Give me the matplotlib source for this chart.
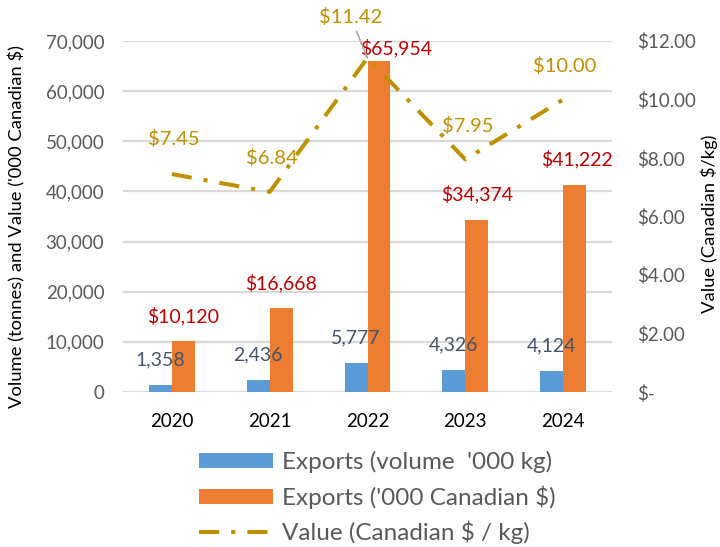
import matplotlib
matplotlib.use("Agg")
import matplotlib.pyplot as plt
import numpy as np

years = ["2020", "2021", "2022", "2023", "2024"]
volume = [1358, 2436, 5777, 4326, 4124]
value_k = [10120, 16668, 65954, 34374, 41222]
price = [7.45, 6.84, 11.42, 7.95, 10.00]

vol_labels = ["1,358", "2,436", "5,777", "4,326", "4,124"]
val_labels = ["$10,120", "$16,668", "$65,954", "$34,374", "$41,222"]
price_labels = ["$7.45", "$6.84", "$11.42", "$7.95", "$10.00"]

left_ticks = [0, 10000, 20000, 30000, 40000, 50000, 60000, 70000]
right_ticks = [0, 2, 4, 6, 8, 10, 12]
right_tick_labels = ["$-", "$2.00", "$4.00", "$6.00", "$8.00", "$10.00", "$12.00"]

BLUE = "#5B9BD5"
ORANGE = "#ED7D31"
GOLD = "#BF9000"
RED = "#C00000"
NAVY = "#44546A"
GRID = "#D9D9D9"
TXT = "#595959"

plt.rcParams['font.family'] = ['Lato', 'DejaVu Sans']

fig = plt.figure(figsize=(7.2, 5.47), dpi=100)
ax = fig.add_axes([123/720, 1-392/547, (612-123)/720, (392-41)/547])
ax2 = ax.twinx()

x = np.arange(len(years))
w = 0.235
b1 = ax.bar(x - w/2, volume, w, color=BLUE, label="Exports (volume  '000 kg)", zorder=2)
b2 = ax.bar(x + w/2, value_k, w, color=ORANGE, label="Exports ('000 Canadian $)", zorder=2)

ax.set_xlim(-0.5, len(years) - 0.5)
ax.set_ylim(0, 70000)
ax.set_yticks(left_ticks)
ax.set_yticklabels([f"{t:,}" for t in left_ticks], color=TXT, fontsize=13.5)
ax.set_xticks(x)
ax.set_xticklabels(years, color="black", fontsize=13.5)
ax.tick_params(axis='y', length=0, pad=13.5)
ax.tick_params(axis='x', length=0, pad=15)
ax.grid(axis='y', color=GRID, linewidth=1.6, zorder=0)
ax.set_axisbelow(True)
for s in ax.spines.values():
    s.set_visible(False)
ax.set_ylabel("Volume (tonnes) and Value ('000 Canadian $)", fontsize=13.2, color="black")
ax.yaxis.set_label_coords(17/720, 1-227/547, transform=fig.transFigure)
ax.yaxis.label.set_va('center')

ln, = ax2.plot(x, price, color=GOLD, linewidth=2.9, label="Value (Canadian $ / kg)", zorder=3)
ln.set_dashes((5, 3, 1, 3))
ax2.set_ylim(0, 12)
ax2.set_yticks(right_ticks)
ax2.set_yticklabels(right_tick_labels, color=TXT, fontsize=13.5)
ax2.tick_params(axis='y', length=0, pad=18)
for s in ax2.spines.values():
    s.set_visible(False)
ax2.set_ylabel("Value (Canadian $/kg)", fontsize=13.2, color="black")
ax2.yaxis.set_label_coords(709/720, 1-224/547, transform=fig.transFigure)
ax2.yaxis.label.set_va('center')

# bar labels
for i in range(len(years)):
    ax.annotate(vol_labels[i], xy=(x[i] - w/2, volume[i]), xytext=(0, 25),
                textcoords='offset pixels', ha='center', va='center',
                color=NAVY, fontsize=14, zorder=5)
val_off = [(0, 25), (0, 25), (17, 13), (0, 26), (2, 26)]
for i in range(len(years)):
    ax.annotate(val_labels[i], xy=(x[i] + w/2, value_k[i]), xytext=val_off[i],
                textcoords='offset pixels', ha='center', va='center',
                color=RED, fontsize=14, zorder=5)

price_off = [(2, 35), (2, 34), (-17, 41), (2, 33), (2, 34)]
for i in range(len(years)):
    if i == 2:
        ax2.annotate(price_labels[i], xy=(x[i], price[i]), xytext=price_off[i],
                     textcoords='offset pixels', ha='center', va='center',
                     color=GOLD, fontsize=14.5, zorder=5,
                     arrowprops=dict(arrowstyle='-', color='#A6A6A6', lw=1.2,
                                     shrinkA=2, shrinkB=0))
    else:
        ax2.annotate(price_labels[i], xy=(x[i], price[i]), xytext=price_off[i],
                     textcoords='offset pixels', ha='center', va='center',
                     color=GOLD, fontsize=14.5, zorder=5)

ax.set_zorder(1)
ax.patch.set_visible(False)
ax2.set_zorder(2)

handles = [b1, b2, ln]
labels = [h.get_label() for h in handles]
leg = fig.legend(handles, labels, loc='upper left', bbox_to_anchor=(199/720, 1-451/547),
                 bbox_transform=fig.transFigure, frameon=False, fontsize=17.5,
                 handlelength=3.05, handleheight=0.57, handletextpad=0.36,
                 labelspacing=0.5, borderpad=0, borderaxespad=0)
for t in leg.get_texts():
    t.set_color(TXT)

fig.savefig("out.png", dpi=100)
